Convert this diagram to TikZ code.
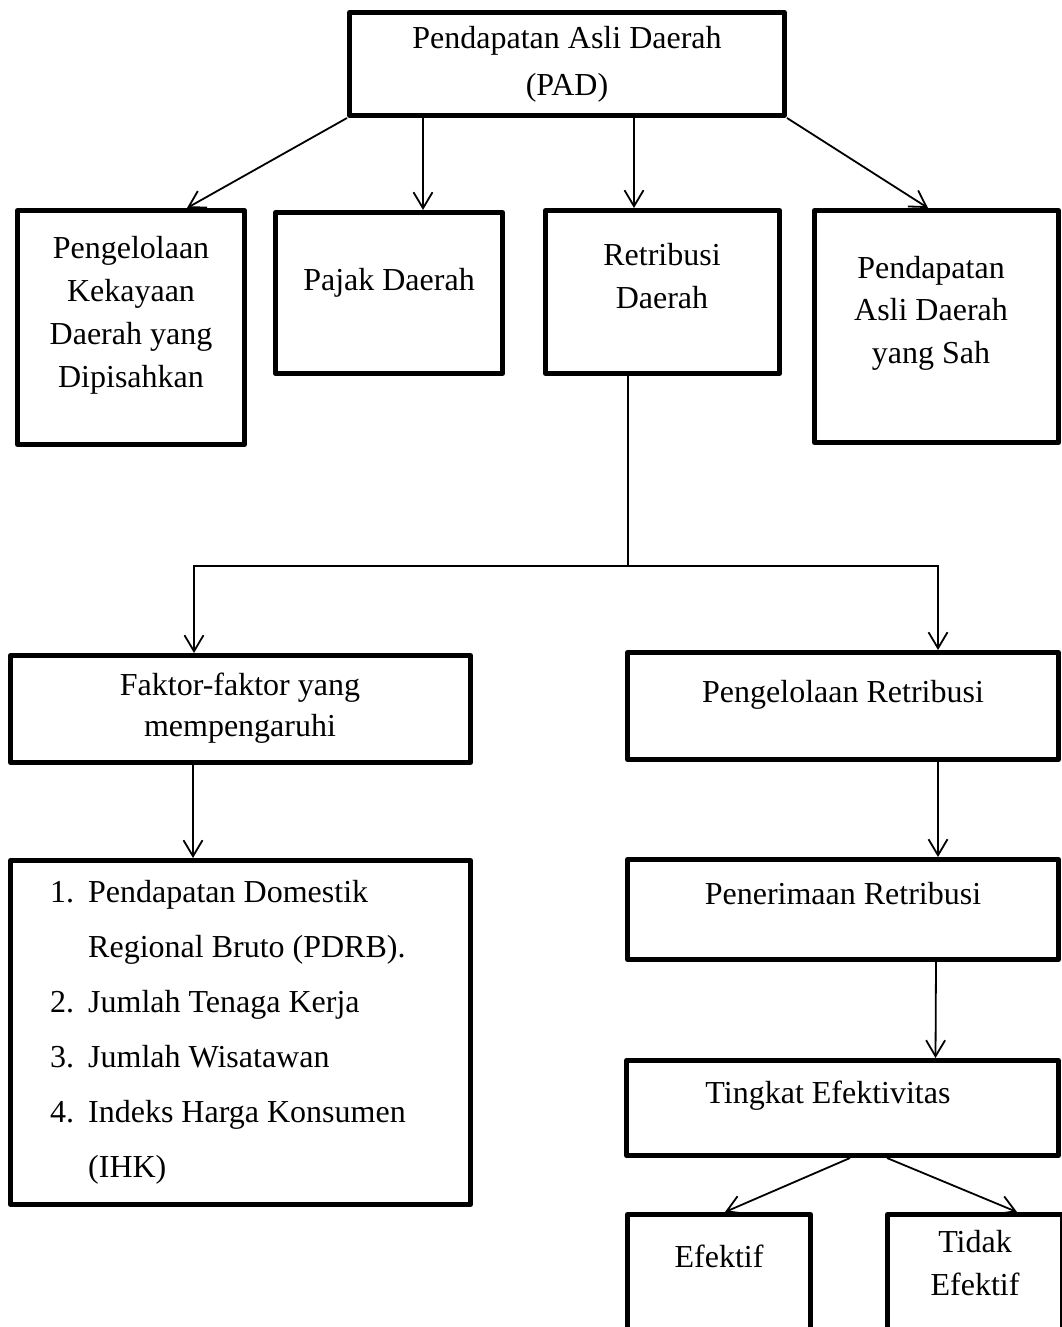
\documentclass[tikz,border=0pt]{standalone}
\usepackage{fontspec}
\setmainfont{Liberation Serif}
\usetikzlibrary{arrows.meta,calc}
\newcommand{\mlines}[2]{\fontsize{32}{#1}\selectfont\begin{tabular}[t]{@{}c@{}}#2\end{tabular}}
\begin{document}
\begin{tikzpicture}[x=1pt,y=-1pt,
  box/.style={draw, line width=5pt, inner sep=0pt, outer sep=2.5pt, line join=round},
  lbl/.style={anchor=base, inner sep=0pt, font=\fontsize{32}{43}\selectfont},
  conn/.style={line width=1.8pt},
  arr/.style={conn, -{Straight Barb[length=16pt,width=19pt,line width=1.8pt]}}
]
\useasboundingbox (0,0) rectangle (1062,1327);

% boxes
\node[box, minimum width=435pt, minimum height=103pt] (pad) at (567,64) {};
\node[box, minimum width=227pt, minimum height=234pt] (b1) at (131,327.5) {};
\node[box, minimum width=227pt, minimum height=161pt] (b2) at (389,293) {};
\node[box, minimum width=234pt, minimum height=163pt] (b3) at (662.5,292) {};
\node[box, minimum width=244pt, minimum height=232pt] (b4) at (936.5,326.5) {};
\node[box, minimum width=460pt, minimum height=107pt] (f) at (240.5,709) {};
\node[box, minimum width=460pt, minimum height=344pt] (l) at (240.5,1032.5) {};
\node[box, minimum width=431pt, minimum height=107pt] (pr) at (843,706) {};
\node[box, minimum width=431pt, minimum height=100pt] (pn) at (843,909.5) {};
\node[box, minimum width=432pt, minimum height=95pt] (te) at (842.5,1108) {};
\node[box, minimum width=183pt, minimum height=133pt] (ef) at (719,1281) {};
\node[box, minimum width=175pt, minimum height=133pt] (tf) at (975,1281) {};

% texts
\node[lbl] (tpad) at (567,49) {\mlines{47}{Pendapatan Asli Daerah\\(PAD)}};
\node[lbl] (t1) at (131,258) {\mlines{43}{Pengelolaan\\Kekayaan\\Daerah yang\\Dipisahkan}};
\node[lbl] (t2) at (389,290) {Pajak Daerah};
\node[lbl] (t3) at (662,265) {\mlines{43}{Retribusi\\Daerah}};
\node[lbl] (t4) at (931,278) {\mlines{42.5}{Pendapatan\\Asli Daerah\\yang Sah}};
\node[lbl] (tf1) at (240,695) {\mlines{41}{Faktor-faktor yang\\mempengaruhi}};
\node[lbl, anchor=base west] (tl) at (50,902) {\fontsize{32}{55}\selectfont\begin{tabular}[t]{@{}l@{\hspace{14pt}}l@{}}
1. & Pendapatan Domestik\\
   & Regional Bruto (PDRB).\\
2. & Jumlah Tenaga Kerja\\
3. & Jumlah Wisatawan\\
4. & Indeks Harga Konsumen\\
   & (IHK)
\end{tabular}};
\node[lbl] (tpr) at (843,702) {Pengelolaan Retribusi};
\node[lbl] (tpn) at (843,904) {Penerimaan Retribusi};
\node[lbl] (tte) at (828,1103) {Tingkat Efektivitas};
\node[lbl] (tef) at (719,1267) {Efektif};
\node[lbl] (ttf) at (975,1252) {\mlines{43}{Tidak\\Efektif}};

% connectors
\draw[arr] (pad.south west) -- ([xshift=56pt]b1.north);
\draw[arr] ([xshift=34pt]b2.north |- pad.south) -- ([xshift=34pt]b2.north);
\draw[arr] ([xshift=-28.5pt]b3.north |- pad.south) -- ([xshift=-28.5pt]b3.north);
\draw[arr] (pad.south east) -- ([xshift=-8.5pt]b4.north);
\coordinate (split) at (628,566);
\draw[conn] ([xshift=-34.5pt]b3.south) -- (split);
\draw[arr] (split) -| ([xshift=-46.5pt]f.north);
\draw[arr] (split) -| ([xshift=95pt]pr.north);
\draw[arr] ([xshift=-47.5pt]f.south) -- ([xshift=-47.5pt]l.north);
\draw[arr] ([xshift=95pt]pr.south) -- ([xshift=95pt]pn.north);
\draw[arr] ([xshift=93pt]pn.south) -- ([xshift=93pt]te.north);
\draw[arr] ([xshift=7.5pt]te.south) -- ([xshift=6pt]ef.north);
\draw[arr] ([xshift=44.5pt]te.south) -- ([xshift=42pt]tf.north);
\end{tikzpicture}
\end{document}
